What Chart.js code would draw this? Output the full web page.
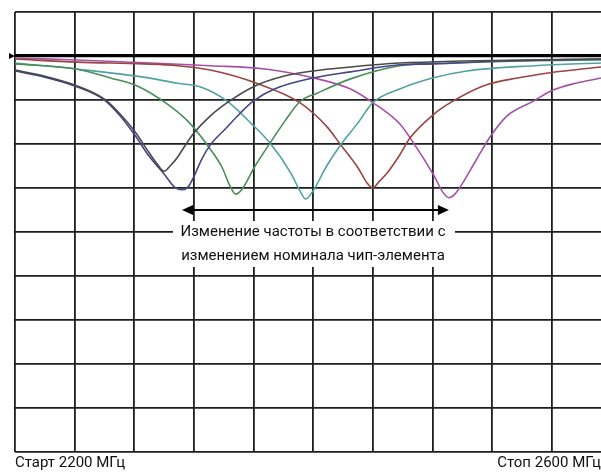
<!DOCTYPE html>
<html>
<head>
<meta charset="utf-8">
<script src="https://cdn.jsdelivr.net/npm/chart.js@4/dist/chart.umd.min.js"></script>
<style>
  html, body { margin: 0; padding: 0; background: #fff; overflow: hidden; }
  #wrap { position: relative; width: 601px; height: 473px; }
</style>
</head>
<body>
<div id="wrap"><canvas id="sweep"></canvas></div>
<script>
// --- данные: частота, МГц / уровень, дБ (5 дБ на деление) ---
const xTicks = [2200, 2240, 2280, 2320, 2360, 2400, 2440, 2480, 2520, 2560];
const yTicks = [5, 0, -5, -10, -15, -20, -25, -30, -35, -40, -45];

const curveGray = [[2200,-1.6],[2220,-2.3],[2240,-3.3],[2260,-4.9],[2270,-6.5],[2280,-8.5],[2290,-11.0],
  [2295,-12.2],[2300,-13.1],[2304,-12.5],[2309,-11.5],[2314,-10.2],[2320,-8.75],[2331,-6.8],[2344,-5.1],
  [2361,-3.4],[2380,-2.3],[2400,-1.7],[2425,-1.25],[2458,-0.8],[2499,-0.57],[2593,-0.34]];
const curveNavy = [[2200,-1.7],[2220,-2.4],[2240,-3.4],[2260,-5.0],[2270,-6.7],[2280,-8.9],[2290,-11.4],
  [2300,-13.4],[2307,-14.9],[2312,-15.2],[2316,-14.9],[2320,-13.7],[2325,-11.8],[2331,-10.1],[2341,-8.3],
  [2351,-6.5],[2360,-5.1],[2374,-3.75],[2400,-2.5],[2425,-1.8],[2458,-1.0],[2480,-0.9],[2525,-0.57],[2593,-0.34]];
const curveGreen = [[2200,-0.9],[2242,-1.5],[2264,-2.5],[2282,-3.4],[2302,-5.45],[2317,-7.6],[2331,-10.6],
  [2339,-12.7],[2344,-14.7],[2348,-15.7],[2352,-15.2],[2361,-12.5],[2371,-9.9],[2381,-7.4],[2391,-5.2],
  [2403,-4.2],[2425,-2.6],[2458,-1.1],[2492,-0.8],[2539,-0.57],[2593,-0.45]];
const curveTeal = [[2200,-0.8],[2242,-1.5],[2286,-2.4],[2309,-3.1],[2324,-3.5],[2342,-5.1],[2358,-7.6],
  [2371,-9.9],[2385,-13.3],[2391,-15.3],[2395,-16.25],[2400,-15.3],[2409,-12.5],[2418,-10.2],[2430,-7.6],
  [2440,-5.3],[2458,-3.75],[2480,-2.5],[2503,-1.7],[2548,-1.1],[2593,-0.8]];
const curveBrown = [[2200,-0.34],[2242,-0.7],[2286,-0.9],[2309,-1.1],[2331,-1.6],[2362,-3.1],[2391,-5.3],
  [2409,-8.0],[2418,-10.0],[2430,-12.7],[2436,-14.4],[2440,-15.0],[2444,-14.3],[2450,-13.2],[2458,-11.25],
  [2465,-9.3],[2481,-6.6],[2492,-5.3],[2514,-3.4],[2537,-2.5],[2559,-1.9],[2593,-1.25]];
const curvePurple = [[2200,-0.23],[2242,-0.45],[2291,-0.8],[2331,-1.1],[2369,-1.5],[2403,-2.6],[2425,-3.75],
  [2440,-5.3],[2458,-7.7],[2465,-9.3],[2481,-13.6],[2487,-15.5],[2491,-16.1],[2495,-15.7],[2500,-14.5],
  [2509,-11.9],[2519,-9.1],[2530,-6.8],[2548,-5.1],[2559,-4.0],[2576,-3.1],[2593,-2.5]];

const curves = [curveGray, curveNavy, curveGreen, curveTeal, curveBrown, curvePurple];
const curveColors = ['#4a4a4a', '#45458a', '#4a8c5a', '#52a2a2', '#9a4444', '#a452a8'];

const startLabel = 'Старт 2200 МГц';
const stopLabel = 'Стоп 2600 МГц';
const noteLines = ['Изменение частоты в соответствии с', 'изменением номинала чип-элемента'];
const arrowFrom = 2312, arrowTo = 2491, arrowLevel = -17.5;

// подписи, стрелка и маркер опорного уровня
const overlay = {
  id: 'overlay',
  afterDraw(chart) {
    const { ctx, chartArea: a, scales: { x, y } } = chart;
    ctx.save();

    const y0 = y.getPixelForValue(0);
    ctx.fillStyle = '#000';
    ctx.beginPath();
    ctx.moveTo(a.left - 6, y0 - 3);
    ctx.lineTo(a.left, y0);
    ctx.lineTo(a.left - 6, y0 + 3);
    ctx.closePath();
    ctx.fill();

    // стрелка
    const ya = y.getPixelForValue(arrowLevel);
    const xa = x.getPixelForValue(arrowFrom), xb = x.getPixelForValue(arrowTo);
    ctx.strokeStyle = '#000';
    ctx.lineWidth = 2;
    ctx.beginPath();
    ctx.moveTo(xa + 6, ya);
    ctx.lineTo(xb - 6, ya);
    ctx.stroke();
    ctx.beginPath();
    ctx.moveTo(xa, ya); ctx.lineTo(xa + 11, ya - 5); ctx.lineTo(xa + 11, ya + 5); ctx.closePath();
    ctx.moveTo(xb, ya); ctx.lineTo(xb - 11, ya - 5); ctx.lineTo(xb - 11, ya + 5); ctx.closePath();
    ctx.fill();

    // текст на белой подложке
    ctx.fillStyle = '#fff';
    ctx.fillRect(173, 221, 282, 46);
    ctx.fillStyle = '#111';
    ctx.font = '15px Roboto';
    ctx.textAlign = 'center';
    ctx.textBaseline = 'middle';
    ctx.fillText(noteLines[0], 313, 232);
    ctx.fillText(noteLines[1], 313, 256);

    ctx.font = '15px Roboto';
    ctx.textAlign = 'left';
    ctx.fillText(startLabel, a.left, 463);
    ctx.textAlign = 'right';
    ctx.fillText(stopLabel, 601, 463);
    ctx.restore();
  }
};

const ctx = document.getElementById('sweep').getContext('2d');
const sweepChart = new Chart(ctx, {
  type: 'line',
  data: {
    datasets: curves.map((c, i) => ({
      data: c.map(p => ({ x: p[0], y: p[1] })),
      borderColor: curveColors[i],
      borderWidth: 1.6,
      pointRadius: 0,
      fill: false,
      cubicInterpolationMode: 'monotone'
    }))
  },
  options: {
    responsive: true,
    maintainAspectRatio: false,
    animation: false,
    layout: { padding: { left: 15, top: 12, right: 0, bottom: 21 } },
    plugins: { legend: { display: false }, tooltip: { enabled: false } },
    scales: {
      x: {
        type: 'linear',
        min: 2200,
        max: 2593,
        afterBuildTicks: s => { s.ticks = xTicks.map(v => ({ value: v })); },
        ticks: { display: false },
        border: { display: false },
        grid: { color: '#1e1e1e', lineWidth: 1.8, drawTicks: false }
      },
      y: {
        min: -45,
        max: 5,
        afterBuildTicks: s => { s.ticks = yTicks.map(v => ({ value: v })); },
        ticks: { display: false },
        border: { display: false },
        grid: {
          color: c => c.tick && c.tick.value === 0 ? '#000' : '#1e1e1e',
          lineWidth: c => c.tick && c.tick.value === 0 ? 3.2 : 1.8,
          drawTicks: false
        }
      }
    }
  },
  plugins: [overlay]
});
</script>
</body>
</html>
